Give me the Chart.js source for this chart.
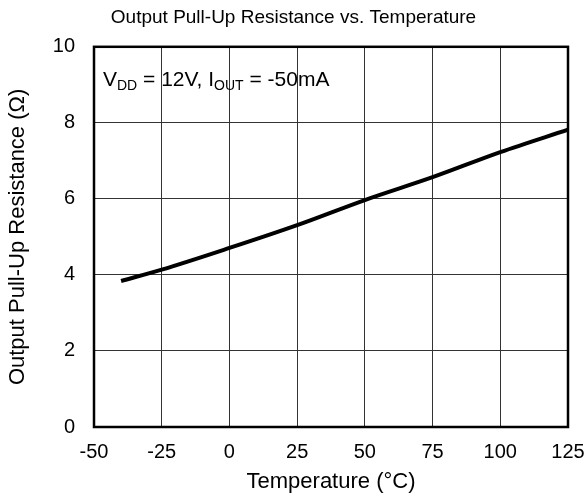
<!DOCTYPE html>
<html>
<head>
<meta charset="utf-8">
<script src="https://cdn.jsdelivr.net/npm/chart.js@4/dist/chart.umd.min.js"></script>
<style>
  html, body { margin: 0; padding: 0; background: #fff; }
  #wrap { width: 587px; height: 498px; }
</style>
</head>
<body>
<div id="wrap"><canvas id="myChart" width="587" height="498"></canvas></div>
<script>
// 温度 (°C)
const temps = [-40, -25, 0, 25, 50, 75, 100, 125];
// 出力プルアップ抵抗 (Ω)
const resistance = [3.84, 4.14, 4.71, 5.31, 5.97, 6.57, 7.23, 7.82];
// 目盛り
const xTicks = [-50, -25, 0, 25, 50, 75, 100, 125];
const yTicks = [0, 2, 4, 6, 8, 10];

const FONT = "'Liberation Sans', Arial, sans-serif";

// 条件テキスト（添字つき）
const condParts = [
  ['V', false], ['DD', true], [' = 12V, I', false], ['OUT', true], [' = -50mA', false]
];

// 枠線と条件テキストを描くプラグイン
const framePlugin = {
  id: 'frame',
  afterDatasetsDraw(chart) {
    const { ctx, chartArea: a } = chart;
    ctx.save();
    ctx.strokeStyle = '#000';
    ctx.lineWidth = 2.5;
    ctx.strokeRect(a.left, a.top, a.right - a.left, a.bottom - a.top);

    let x = a.left + 9;
    const y = a.top + 39;
    ctx.fillStyle = '#000';
    ctx.textBaseline = 'alphabetic';
    condParts.forEach(([t, sub]) => {
      ctx.font = (sub ? '14px ' : '21px ') + FONT;
      ctx.fillText(t, x, sub ? y + 4 : y);
      x += ctx.measureText(t).width;
    });
    ctx.restore();
  }
};

const data = {
  datasets: [{
    data: temps.map((t, i) => ({ x: t, y: resistance[i] })),
    borderColor: '#000',
    borderWidth: 4,
    pointRadius: 0,
    cubicInterpolationMode: 'monotone',
    fill: false,
  }]
};

const config = {
  type: 'line',
  data: data,
  options: {
    responsive: false,
    animation: false,
    layout: { padding: { left: 19, right: 19, top: 0, bottom: 0 } },
    plugins: {
      legend: { display: false },
      tooltip: { enabled: false },
      title: {
        display: true,
        text: 'Output Pull-Up Resistance vs. Temperature',
        color: '#000',
        font: { family: FONT, size: 19, weight: 'normal' },
        padding: { top: 6, bottom: 18 }
      }
    },
    scales: {
      x: {
        type: 'linear',
        min: -50,
        max: 125,
        afterBuildTicks: s => { s.ticks = xTicks.map(v => ({ value: v })); },
        afterFit: s => { s.height = 71; s.paddingLeft = 0; s.paddingRight = 0; },
        border: { display: false },
        grid: { color: '#333', lineWidth: 1, drawTicks: false },
        ticks: { color: '#000', padding: 13, maxRotation: 0, font: { family: FONT, size: 20 } },
        title: {
          display: true,
          text: 'Temperature (°C)',
          color: '#000',
          font: { family: FONT, size: 22 },
          padding: { top: 0, bottom: 3 }
        }
      },
      y: {
        min: 0,
        max: 10,
        afterBuildTicks: s => { s.ticks = yTicks.map(v => ({ value: v })); },
        afterFit: s => { s.width = 75; },
        border: { display: false },
        grid: { color: '#333', lineWidth: 1, drawTicks: false },
        ticks: { color: '#000', padding: 19, font: { family: FONT, size: 20 } },
        title: {
          display: true,
          text: 'Output Pull-Up Resistance (Ω)',
          color: '#000',
          font: { family: FONT, size: 22 },
          padding: { top: -14, bottom: 0 }
        }
      }
    }
  },
  plugins: [framePlugin]
};

const myChart = new Chart(document.getElementById('myChart'), config);
</script>
</body>
</html>
